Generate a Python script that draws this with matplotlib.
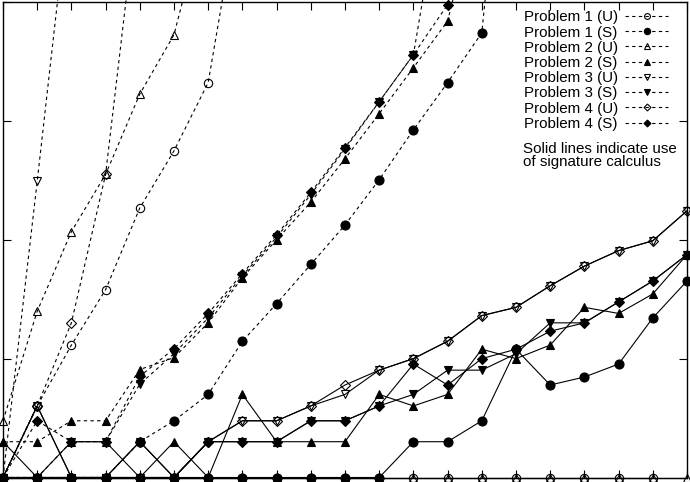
import numpy as np
import matplotlib
matplotlib.use("Agg")
import matplotlib.pyplot as plt

plt.rcParams['font.family'] = ['Liberation Sans', 'DejaVu Sans']

nan = np.nan

def pad(vals, n=21):
    return vals + [nan] * (n - len(vals))

x = np.arange(21)

# dashed series (no signature calculus); points off the top keep the line going up
p1u = pad([1, 4, 13, 38, 185, 560, 2100, 1e5])
p1s = pad([1, 1, 1, 1, 2, 3, 5, 14, 29, 62, 133, 320, 840, 2100, 5500, 4e6])
p2u = pad([3, 25, 117, 355, 1680, 5300, 7e4])
p2s = pad([2, 2, 3, 3, 8.1, 10.2, 20, 48, 100, 207, 480, 1150, 2800, 6900, 1e5])
p3u = pad([1, 310, 1.1e5])
p3s = pad([1, 1, 2, 2, 6.1, 11, 22, 50, 105, 240, 580, 1450, 3600, 1.8e5])
p4u = pad([1, 4, 20, 355, 1e5])
p4s = pad([1, 3, 2, 2, 7.1, 12.1, 24, 52, 110, 250, 596, 1450, 3600, 9500, 2e5])

# solid series (signature calculus)
s1u = pad([1] * 20)
s1s = [1] * 12 + [2, 2, 3, 12, 6, 7, 9, 22, 45]
s2u = [1] * 21
s2s = [2, 1, 2, 2, 1, 2, 1, 5, 2, 2, 2, 5, 4, 5, 12, 10, 13, 27, 24, 35, 75]
s3u = [1, 4, 1, 1, 2, 1, 2, 3, 3, 4, 5, 8, 10, 14, 23, 27, 41, 60, 81, 98, 175]
s3s = [1, 1, 1, 1, 1, 1, 2, 2, 2, 3, 3, 4, 5, 8, 8, 11, 20, 20, 30, 45, 75]
s4u = [1, 4, 1, 1, 2, 1, 2, 3, 3, 4, 6, 8, 10, 14, 23, 27, 41, 60, 81, 98, 175]
s4s = [1, 1, 1, 1, 1, 1, 2, 2, 2, 3, 3, 4, 9, 6, 10, 12, 17, 20, 30, 45, 75]

labels = ['Problem 1 (U)', 'Problem 1 (S)', 'Problem 2 (U)', 'Problem 2 (S)',
          'Problem 3 (U)', 'Problem 3 (S)', 'Problem 4 (U)', 'Problem 4 (S)']
dashed = [p1u, p1s, p2u, p2s, p3u, p3s, p4u, p4s]
solid = [s1u, s1s, s2u, s2s, s3u, s3s, s4u, s4s]
markers = ['o', 'o', '^', '^', 'v', 'v', 'D', 'D']
filled = [False, True, False, True, False, True, False, True]
msizes = [6, 6.5, 6, 6, 6, 6, 5, 5]

fig = plt.figure(figsize=(6.9, 4.82), dpi=100)
ax = fig.add_axes([3 / 690, 4.5 / 482, 684 / 690, 475.5 / 482])

handles = []
for y, m, f, ms, lab in zip(dashed, markers, filled, msizes, labels):
    h, = ax.plot(x, y, linestyle=(0, (3, 3)), lw=0.8, color='black', marker=m,
                 ms=ms, mfc='black' if f else 'none', mec='black', mew=0.8,
                 label=lab, clip_on=False)
    handles.append(h)

for y, m, f, ms in zip(solid, markers, filled, msizes):
    ax.plot(x, y, '-', lw=0.8, color='black', marker=m, ms=ms,
            mfc='black' if f else 'none', mec='black', mew=0.8, clip_on=False)

ax.set_yscale('log')
ax.set_xlim(0, 20)
ax.set_ylim(1, 1e4)
ax.set_xticks(x)
ax.set_yticks([1, 10, 100, 1000, 10000])
ax.yaxis.set_minor_locator(matplotlib.ticker.NullLocator())
ax.tick_params(direction='in', length=6, width=0.8, top=True, right=True,
               labelbottom=False, labelleft=False)
for s in ax.spines.values():
    s.set_linewidth(1.0)

leg = ax.legend(handles=handles, loc='upper right', bbox_to_anchor=(0.984, 1.0),
                markerfirst=False, frameon=False, fontsize=10.9,
                handlelength=2.8, handletextpad=0.5, labelspacing=0.08,
                borderaxespad=0.15, markerscale=0.7)

ax.text(0.760, 0.705, 'Solid lines indicate use\nof signature calculus',
        transform=ax.transAxes, fontsize=10.9, ha='left', va='top',
        linespacing=0.92)

fig.savefig('out.png', dpi=100)
